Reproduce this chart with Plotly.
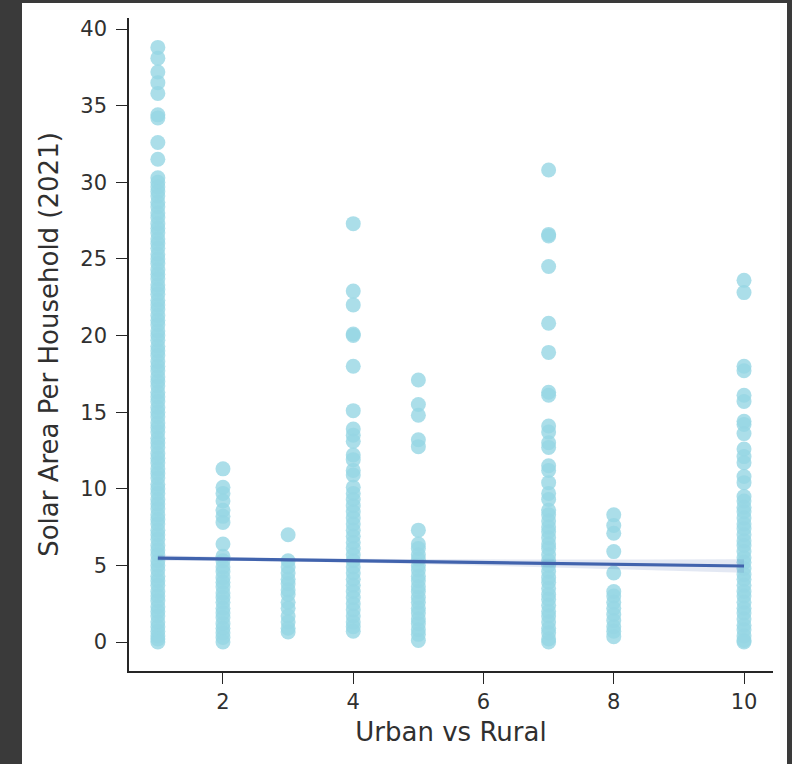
import plotly.graph_objects as go

# ---- data ----
cat1 = [38.8, 38.1, 37.2, 36.5, 35.8, 34.4, 34.2, 32.6, 31.5,
        30.3, 30.0, 29.7, 29.4, 29.1, 28.7, 28.4, 28.0, 27.7, 27.3, 27.0, 26.7, 26.3,
        26.0, 25.7, 25.3, 25.0, 24.7, 24.3, 24.0, 23.7, 23.3, 23.0, 22.7, 22.3, 22.0,
        21.7, 21.3, 21.0, 20.7, 20.3, 20.0, 19.7, 19.3, 19.0, 18.7, 18.3, 18.0, 17.7,
        17.3, 17.0, 16.7, 16.3, 16.0, 15.7, 15.3, 15.0, 14.7, 14.3, 14.0, 13.7, 13.3,
        13.0, 12.7, 12.3, 12.0, 11.7, 11.3, 11.0, 10.7, 10.3, 10.0, 9.7, 9.3, 9.0, 8.7,
        8.3, 8.0, 7.7, 7.3, 7.0, 6.7, 6.3, 6.0, 5.7, 5.3, 5.0, 4.7, 4.3, 4.0, 3.7, 3.3,
        3.0, 2.7, 2.3, 2.0, 1.7, 1.3, 1.0, 0.7, 0.4, 0.2, 0.0]
cat2 = [11.3, 10.1, 9.7, 9.2, 8.6, 8.2, 7.8, 6.4,
        5.6, 5.3, 4.9, 4.6, 4.2, 3.9, 3.6, 3.2, 2.9, 2.6, 2.2, 1.9, 1.6, 1.2, 0.9,
        0.6, 0.3, 0.0]
cat3 = [7.0, 5.3, 4.9, 4.5, 4.1, 3.8, 3.4, 3.1, 2.6, 2.2, 1.7, 1.3, 0.9, 0.65]
cat4 = [27.3, 22.9, 22.0, 20.1, 20.0, 18.0, 15.1, 13.9, 13.5, 13.1, 12.2, 11.9, 11.2,
        10.9, 10.1, 9.7, 9.3, 8.9, 8.5, 8.1, 7.7, 7.3, 6.9, 6.5, 6.1, 5.7, 5.3, 4.9,
        4.5, 4.1, 3.7, 3.3, 2.9, 2.5, 2.1, 1.7, 1.3, 1.0, 0.7]
cat5 = [17.1, 15.5, 14.8, 13.2, 12.75, 7.3,
        6.4, 6.1, 5.7, 5.4, 5.0, 4.7, 4.3, 4.0, 3.6, 3.3, 2.9, 2.6, 2.2, 1.9, 1.5,
        1.2, 0.8, 0.5, 0.1]
cat7 = [30.8, 26.6, 26.5, 24.5, 20.8, 18.9, 16.3, 16.1, 14.1, 13.7, 13.0, 12.7, 11.5,
        11.2, 10.4, 9.7, 9.3, 8.6, 8.3, 7.9, 7.5, 7.2, 6.8, 6.4, 6.1, 5.7, 5.3, 5.0,
        4.6, 4.2, 3.9, 3.5, 3.1, 2.8, 2.4, 2.0, 1.7, 1.3, 0.9, 0.6, 0.2, 0.0]
cat8 = [8.3, 7.6, 7.1, 5.9, 4.5, 3.3, 3.0, 2.6, 2.2, 1.8, 1.4, 1.0, 0.7, 0.35]
cat10 = [23.6, 22.8, 18.0, 17.7, 16.1, 15.7, 14.4, 14.2, 13.6, 12.6, 12.1, 11.7, 10.8,
         10.4, 9.5, 9.2, 8.8, 8.5, 8.1, 7.7, 7.4, 7.0, 6.6, 6.3, 5.9, 5.5, 5.2, 4.8,
         4.4, 4.1, 3.7, 3.3, 3.0, 2.6, 2.2, 1.9, 1.5, 1.1, 0.8, 0.4, 0.1, 0.0]

categories = [1, 2, 3, 4, 5, 7, 8, 10]
series = [cat1, cat2, cat3, cat4, cat5, cat7, cat8, cat10]

fit_x = [1, 10]
fit_y = [5.48, 4.96]
ci_x = [1, 2.5, 4, 5.5, 7, 8.5, 10]
ci_half = [0.18, 0.11, 0.12, 0.17, 0.25, 0.34, 0.44]

x_ticks = [2, 4, 6, 8, 10]
y_ticks = [0, 5, 10, 15, 20, 25, 30, 35, 40]

# ---- build ----
xs, ys = [], []
for c, vals in zip(categories, series):
    xs += [c] * len(vals)
    ys += vals

fig = go.Figure()
fig.add_trace(go.Scatter(
    x=xs, y=ys, mode="markers",
    marker=dict(size=15, color="rgb(150,214,227)", opacity=0.8, line=dict(width=0)),
    hoverinfo="skip", showlegend=False))

ci_y_fit = [fit_y[0] + (fit_y[1] - fit_y[0]) * (x - fit_x[0]) / (fit_x[1] - fit_x[0]) for x in ci_x]
upper = [f + h for f, h in zip(ci_y_fit, ci_half)]
lower = [f - h for f, h in zip(ci_y_fit, ci_half)]
fig.add_trace(go.Scatter(
    x=ci_x + ci_x[::-1], y=upper + lower[::-1], fill="toself",
    fillcolor="rgba(68,102,176,0.15)", line=dict(width=0), mode="lines",
    hoverinfo="skip", showlegend=False))
fig.add_trace(go.Scatter(
    x=fit_x, y=fit_y, mode="lines",
    line=dict(color="#4163ad", width=3.2),
    hoverinfo="skip", showlegend=False))

W, H = 792, 764
L, R, T, B = 129, 19, 18, 93
pw, ph = W - L - R, H - T - B

def px(xp):
    return (xp - L) / pw

def py(yp):
    return (H - B - yp) / ph

fig.add_shape(type="rect", xref="paper", yref="paper",
              x0=px(22), x1=px(787), y0=py(800), y1=py(3),
              fillcolor="white", line=dict(width=0), layer="below")

line_col = "#262626"
text_col = "#303030"
fig.update_layout(
    width=W, height=H,
    margin=dict(l=L, r=R, t=T, b=B),
    paper_bgcolor="#3a3a3a", plot_bgcolor="rgba(0,0,0,0)",
    font=dict(family="DejaVu Sans", color=text_col),
    xaxis=dict(range=[0.557, 10.445], tickvals=x_ticks, ticks="outside", ticklen=11,
               tickwidth=1.3, tickcolor=line_col, showline=True, linecolor=line_col,
               linewidth=1.6, showgrid=False, zeroline=False,
               tickfont=dict(size=21, color=text_col),
               title=dict(text="Urban vs Rural", font=dict(size=26, color=text_col), standoff=10)),
    yaxis=dict(range=[-1.89, 40.72], tickvals=y_ticks, ticks="outside", ticklen=11,
               tickwidth=1.3, tickcolor=line_col, showline=True, linecolor=line_col,
               linewidth=1.6, showgrid=False, zeroline=False, ticklabelstandoff=5,
               tickfont=dict(size=21, color=text_col),
               title=dict(text="Solar Area Per Household (2021)", font=dict(size=26, color=text_col), standoff=14)),
)

fig.write_html("out.html", config={"displayModeBar": False},
               post_script="document.body.style.margin='0';document.body.style.padding='0';document.body.style.overflow='hidden';")
